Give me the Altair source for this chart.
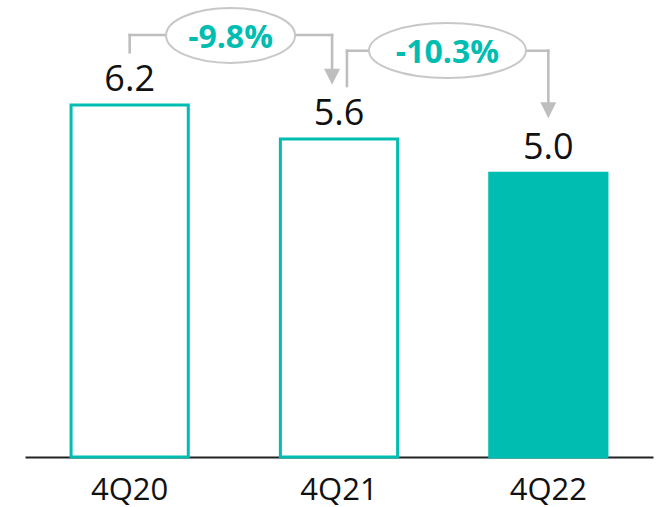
import altair as alt
import pandas as pd

# ---- data ----
quarters = ["4Q20", "4Q21", "4Q22"]
values = [6.2, 5.6, 5.0]
fills = ["white", "white", "#00BDB2"]
labels = ["6.2", "5.6", "5.0"]

changes = ["-9.8%", "-10.3%"]

# annotation geometry (x in category slots 0..3, y in data units)
seg_x = [0.5, 0.5, 1.467, 1.538, 1.538, 2.5]
seg_x2 = [0.5, 1.467, 1.467, 1.538, 2.5, 2.5]
seg_y = [7.13, 7.434, 7.434, 6.535, 7.157, 7.157]
seg_y2 = [7.434, 7.434, 6.70, 7.157, 7.157, 6.11]

arrow_x = [1.467, 2.5]
arrow_y = [6.70, 6.11]

oval_x = [0.982, 2.018]
oval_y = [7.425, 7.16]
oval_w = [129, 157]
oval_h = [55, 55]
text_y = [7.205, 6.94]

TEAL = "#00BDB2"
GREY = "#BEBEBE"
FONT = "Open Sans"
YMAX = 8.05


def ellipse_path(ry):
    k = 0.5523
    return (f"M -1 0 C -1 {-ry*k:.4f} {-k:.4f} {-ry:.4f} 0 {-ry:.4f} "
            f"C {k:.4f} {-ry:.4f} 1 {-ry*k:.4f} 1 0 "
            f"C 1 {ry*k:.4f} {k:.4f} {ry:.4f} 0 {ry:.4f} "
            f"C {-k:.4f} {ry:.4f} -1 {ry*k:.4f} -1 0 Z")


bars_df = pd.DataFrame({"quarter": quarters, "value": values, "fill": fills, "label": labels})
seg_df = pd.DataFrame({"ax": seg_x, "ax2": seg_x2, "y": seg_y, "y2": seg_y2})
arrow_df = pd.DataFrame({"ax": arrow_x, "y": arrow_y})
oval_df = pd.DataFrame({
    "ax": oval_x, "y": oval_y, "ty": text_y, "text": changes,
    "size": [w * w for w in oval_w],
    "shape": [ellipse_path(h / w) for w, h in zip(oval_w, oval_h)],
})

yscale = alt.Scale(domain=[0, YMAX], nice=False, zero=True)
xband = alt.Scale(paddingInner=0.44, paddingOuter=0.22)
xq = alt.Scale(domain=[0, 3], nice=False, zero=False)

bars = alt.Chart(bars_df).mark_bar(stroke=TEAL, strokeWidth=3).encode(
    x=alt.X("quarter:N", sort=quarters, scale=xband,
            axis=alt.Axis(title=None, labelAngle=0, labelFont=FONT, labelFontSize=31,
                          labelColor="#111111", domainColor="#222222", domainWidth=2,
                          ticks=False, tickSize=0, labelPadding=42,
                          labelBaseline="alphabetic", grid=False)),
    y=alt.Y("value:Q", scale=yscale, axis=None),
    fill=alt.Fill("fill:N", scale=None),
)

vlabels = alt.Chart(bars_df).mark_text(
    font=FONT, fontSize=36, color="#111111", baseline="alphabetic", dy=-14
).encode(
    x=alt.X("quarter:N", sort=quarters, scale=xband, axis=None),
    y=alt.Y("value:Q", scale=yscale, axis=None),
    text="label:N",
)

segs = alt.Chart(seg_df).mark_rule(color=GREY, strokeWidth=2.6, strokeCap="square").encode(
    x=alt.X("ax:Q", scale=xq, axis=None),
    x2="ax2:Q",
    y=alt.Y("y:Q", scale=yscale, axis=None),
    y2="y2:Q",
)

arrows = alt.Chart(arrow_df).mark_point(
    shape="M -1 -1 L 1 -1 L 0 1 Z", size=256, filled=True, color=GREY, opacity=1
).encode(
    x=alt.X("ax:Q", scale=xq, axis=None),
    y=alt.Y("y:Q", scale=yscale, axis=None),
)

ovals = alt.Chart(oval_df).mark_point(
    fill="white", stroke="#C8C8C8", strokeWidth=2, opacity=1, fillOpacity=1
).encode(
    x=alt.X("ax:Q", scale=xq, axis=None),
    y=alt.Y("y:Q", scale=yscale, axis=None),
    shape=alt.Shape("shape:N", scale=None),
    size=alt.Size("size:Q", scale=None),
)

otext = alt.Chart(oval_df).mark_text(
    font=FONT, fontSize=32, fontWeight="bold", color=TEAL, baseline="alphabetic", align="center"
).encode(
    x=alt.X("ax:Q", scale=xq, axis=None),
    y=alt.Y("ty:Q", scale=yscale, axis=None),
    text="text:N",
)

chart = alt.layer(bars, vlabels, segs, arrows, ovals, otext).resolve_scale(
    x="independent"
).properties(
    width=628, height=457,
    autosize=alt.AutoSizeParams(type="none"),
    padding={"left": 25, "top": 0, "right": 5, "bottom": 50},
    background="white",
).configure_view(stroke=None)

chart.save("out.html", embed_options={"renderer": "svg", "actions": False})
